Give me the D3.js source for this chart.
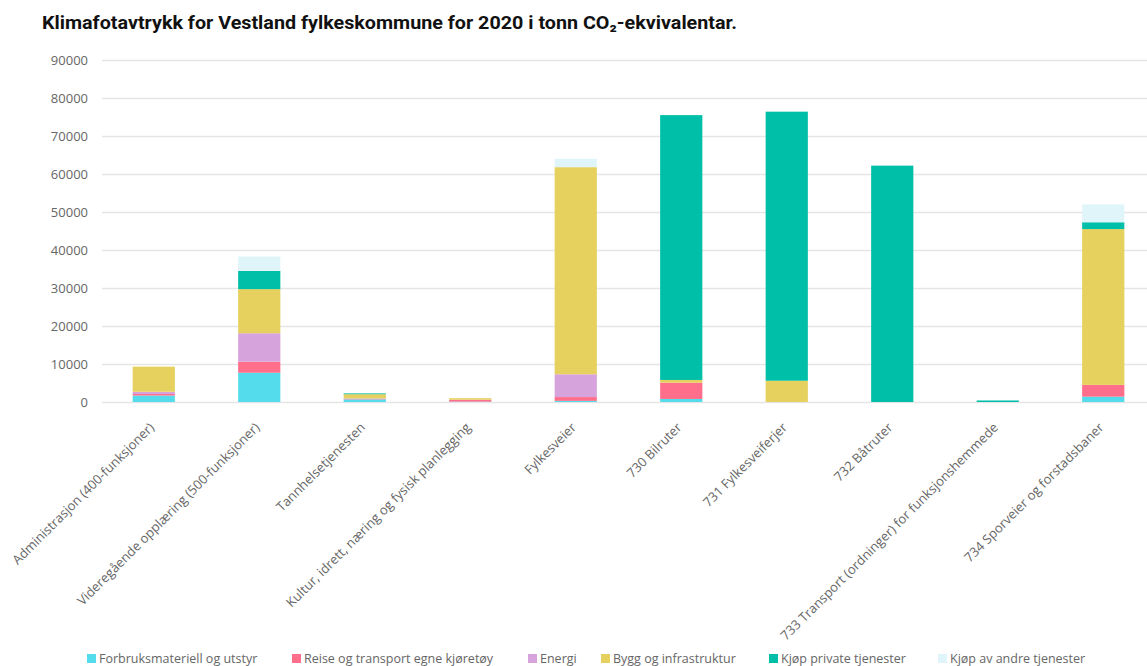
<!DOCTYPE html>
<html>
<head>
<meta charset="utf-8">
<script src="https://cdn.jsdelivr.net/npm/d3@7"></script>
<style>
  html, body { margin: 0; padding: 0; background: #fff; }
  svg { display: block; }
</style>
</head>
<body>
<svg id="chart" width="1147" height="666"></svg>
<script>
// Budget categories (x axis)
const categories = [
  "Administrasjon (400-funksjoner)",
  "Videregående opplæring (500-funksjoner)",
  "Tannhelsetjenesten",
  "Kultur, idrett, næring og fysisk planlegging",
  "Fylkesveier",
  "730 Bilruter",
  "731 Fylkesveiferjer",
  "732 Båtruter",
  "733 Transport (ordninger) for funksjonshemmede",
  "734 Sporveier og forstadsbaner"
];

// Emission source series (stack order, bottom to top)
const seriesNames = [
  "Forbruksmateriell og utstyr",
  "Reise og transport egne kjøretøy",
  "Energi",
  "Bygg og infrastruktur",
  "Kjøp private tjenester",
  "Kjøp av andre tjenester"
];
const seriesColors = ["#55dcec", "#ff6e8a", "#d7a3dc", "#e6d05e", "#00bfa8", "#dff5f9"];

// Tonnes CO2-equivalents per category, one array per series
const forbruksmateriell = [1700, 7700,  700, 100,   300,   800,     0,     0,   0,  1400];
const reiseTransport    = [ 400, 2900,  100, 500,  1000,  4300,     0,     0,   0,  3100];
const energi            = [ 600, 7500,  150,   0,  6000,     0,     0,     0,   0,     0];
const byggInfrastruktur = [6600, 11600, 1100, 400, 54500,   700,  5600,     0,   0, 41000];
const kjopPrivate       = [   0, 4800,  250,   0,     0, 69700, 70800, 62200, 400,  1800];
const kjopAndre         = [   0, 3800,   50,   0,  2200,     0,     0,     0,   0,  4700];

const yTicks = [0, 10000, 20000, 30000, 40000, 50000, 60000, 70000, 80000, 90000];

const seriesValues = [forbruksmateriell, reiseTransport, energi, byggInfrastruktur, kjopPrivate, kjopAndre];

const rows = categories.map((c, i) => {
  const r = { category: c };
  seriesNames.forEach((s, k) => { r[s] = seriesValues[k][i]; });
  return r;
});

const svg = d3.select("#chart");
const W = 1147, H = 666;

const x = d3.scaleBand()
  .domain(categories)
  .range([101, 1156])
  .paddingInner(0.6)
  .paddingOuter(0.3);

const y = d3.scaleLinear()
  .domain([0, 90000])
  .range([402, 60]);

const color = d3.scaleOrdinal().domain(seriesNames).range(seriesColors);

// Title
svg.append("text")
  .attr("x", 42)
  .attr("y", 29)
  .attr("font-family", "Roboto, sans-serif")
  .attr("font-weight", 700)
  .attr("font-size", 19)
  .attr("textLength", 695)
  .attr("lengthAdjust", "spacingAndGlyphs")
  .attr("fill", "#111")
  .text("Klimafotavtrykk for Vestland fylkeskommune for 2020 i tonn CO₂-ekvivalentar.");

// Gridlines and y labels
const yAxis = d3.axisLeft(y)
  .tickValues(yTicks)
  .tickSize(-(W - 102))
  .tickFormat(d3.format("d"))
  .tickPadding(14);

const gy = svg.append("g")
  .attr("transform", "translate(102,0)")
  .call(yAxis);
gy.select(".domain").remove();
gy.selectAll(".tick line")
  .attr("stroke", "#e5e5e5")
  .attr("stroke-width", 1.6);
gy.selectAll(".tick text")
  .attr("font-family", "'Open Sans', sans-serif")
  .attr("font-size", 13)
  .attr("fill", "#666");

// Stacked bars
const stacked = d3.stack().keys(seriesNames)(rows);

svg.append("g")
  .selectAll("g")
  .data(stacked)
  .join("g")
  .attr("fill", d => color(d.key))
  .selectAll("rect")
  .data(d => d)
  .join("rect")
  .attr("x", d => x(d.data.category))
  .attr("width", x.bandwidth())
  .attr("y", d => y(d[1]))
  .attr("height", d => Math.max(0, y(d[0]) - y(d[1])));

// X axis labels rotated
const xAxis = d3.axisBottom(x).tickSize(0).tickPadding(0);
const gx = svg.append("g")
  .attr("transform", "translate(0,402)")
  .call(xAxis);
gx.select(".domain").remove();
gx.selectAll(".tick text")
  .attr("font-family", "'Open Sans', sans-serif")
  .attr("font-size", 13)
  .attr("fill", "#666")
  .attr("text-anchor", "end")
  .attr("dy", "0.35em")
  .attr("transform", "translate(-2,23) rotate(-45)");

// Legend
const legendX = [87, 292, 528, 601, 769, 938];
const legend = svg.append("g").attr("transform", "translate(0,659)");
seriesNames.forEach((name, i) => {
  const g = legend.append("g").attr("transform", `translate(${legendX[i]},0)`);
  g.append("rect")
    .attr("x", 0).attr("y", -5)
    .attr("width", 9).attr("height", 9)
    .attr("fill", color(name));
  g.append("text")
    .attr("x", 12)
    .attr("y", 0)
    .attr("dy", "0.35em")
    .attr("font-family", "'Open Sans', sans-serif")
    .attr("font-size", 12.5)
    .attr("fill", "#666")
    .text(name);
});
</script>
</body>
</html>
